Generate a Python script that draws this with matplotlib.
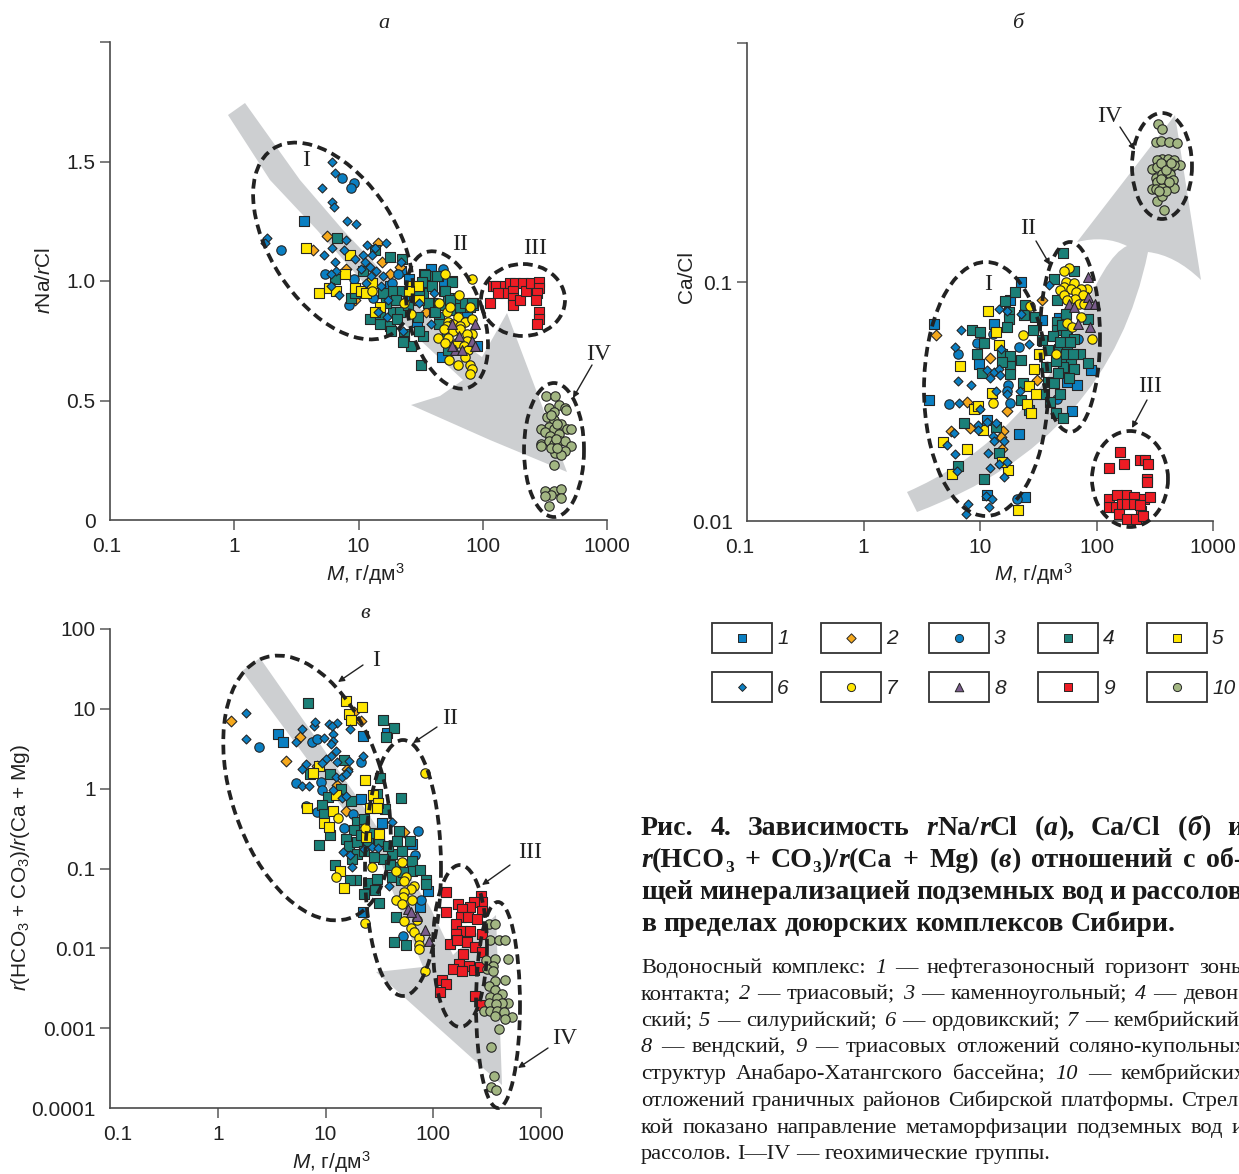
import numpy as np
import matplotlib
matplotlib.use("Agg")
import matplotlib.pyplot as plt
from matplotlib.patches import Ellipse, Polygon, Rectangle, FancyArrowPatch
from matplotlib.path import Path
from matplotlib.patches import PathPatch
from matplotlib.transforms import ScaledTranslation

W, H = 1239, 1174
plt.rcParams.update({
    "font.family": ["Liberation Sans", "DejaVu Sans"],
    "mathtext.fontset": "custom",
    "mathtext.rm": "Liberation Sans",
    "mathtext.it": "Liberation Sans:italic",
    "mathtext.default": "regular",
})

# ---------- panel a: (log10 M, rNa/rCl) ----------
a1 = [(0.56,1.25),(1.58,1.05),(1.69,1.00),(1.34,1.04),(1.41,1.01),(1.67,0.68),(1.87,0.87),(1.95,0.73),(1.47,0.83),(1.25,0.98),(1.92,0.90)]
a2 = [(0.75,1.19),(0.63,1.13),(1.16,1.16),(1.19,1.08),(0.90,1.05),(1.25,1.03),(1.54,0.87),(1.33,1.06),(0.97,0.92)]
a3 = [(0.87,1.43),(0.96,1.41),(0.94,1.39),(0.38,1.13),(0.73,1.03),(0.96,1.01),(1.12,0.93),(0.92,0.90),(1.32,1.03),(1.68,1.05),(1.39,0.92),(1.27,0.99)]
a4 = [(0.83,1.18),(1.13,1.13),(1.25,1.10),(1.35,1.09),(1.04,1.04),(0.81,1.01),(0.94,0.93),(0.97,0.95),(1.28,0.96),(1.35,0.96),(1.20,0.95),(1.09,0.84),(1.17,0.82),(1.25,0.81),(1.26,0.79),(1.17,0.86),(1.28,0.87),(1.33,0.87),(1.31,0.84),(1.37,0.78),(1.37,0.75),(1.42,0.73),(1.50,0.65),(1.49,0.79),(1.52,0.77),(1.48,0.85),(1.56,1.02),(1.53,1.03),(1.64,1.02),(1.75,1.00),(1.56,0.98),(1.69,0.96),(1.60,0.91),(1.57,0.91),(1.52,0.95),(1.45,0.94),(1.79,0.91),(1.92,0.91),(1.90,0.89),(1.65,0.85),(1.61,0.87),(1.76,0.88),(1.65,0.82),(1.71,0.78),(1.72,0.71),(1.82,0.89),(1.68,0.90),(1.72,0.93),(1.30,0.92),(1.40,0.90),(1.22,0.91),
      (1.534,1.024),(1.63,1.02),(1.51,0.995),(1.59,0.98),(1.75,0.995),(1.695,0.96),(1.49,0.95),(1.80,0.93),(1.735,0.92),(1.56,0.91),(1.615,0.87),(1.735,0.88),(1.855,0.907),(1.49,0.79),(1.357,0.744),(1.91,0.91)]
a5 = [(0.58,1.14),(0.93,1.11),(0.89,1.03),(0.68,0.95),(0.76,0.97),(0.82,0.96),(0.97,0.97),(1.02,0.96),(1.06,0.95),(1.11,0.99),(1.17,0.89),(1.13,0.87),(1.43,0.98),(1.48,0.98),(1.49,0.92),(1.41,0.96)]
a6 = [(0.79,1.50),(0.81,1.45),(0.71,1.39),(0.79,1.33),(0.80,1.31),(0.91,1.25),(0.98,1.24),(0.26,1.18),(0.25,1.16),(0.90,1.17),(0.79,1.14),(0.88,1.13),(0.72,1.11),(1.07,1.15),(1.22,1.16),(1.13,1.14),(1.04,1.11),(1.11,1.11),(0.97,1.09),(0.81,1.08),(1.05,1.08),(1.02,1.05),(1.09,1.06),(0.82,1.04),(0.78,1.03),(1.10,1.02),(1.14,1.04),(1.20,1.02),(1.06,0.99),(1.18,0.98),(0.78,0.98),(0.84,0.94),(1.24,0.92),(1.34,1.08),(1.16,0.87),(1.23,0.85),(1.49,0.91),(1.36,0.79),(1.58,0.82),(1.61,0.95)]
a7 = [(1.70,1.03),(1.91,1.01),(1.81,0.94),(1.65,0.91),(1.11,0.96),(1.42,0.86),(1.71,0.87),(1.74,0.89),(1.90,0.89),(1.80,0.85),(1.72,0.83),(1.86,0.83),(1.91,0.84),(1.76,0.82),(1.82,0.81),(1.71,0.81),(1.69,0.80),(1.76,0.79),(1.82,0.80),(1.91,0.78),(1.87,0.78),(1.64,0.76),(1.72,0.76),(1.87,0.75),(1.70,0.74),(1.79,0.74),(1.85,0.73),(1.88,0.71),(1.73,0.67),(1.86,0.68),(1.80,0.65),(1.90,0.65),(1.91,0.63),(1.90,0.61),(1.37,0.91)]
a8 = [(1.75,0.82),(1.94,0.82),(1.81,0.77),(1.91,0.75),(1.94,0.73),(1.78,0.71),(1.83,0.71),(1.75,0.73)]
a9 = [(2.06,0.91),(2.08,0.98),(2.11,0.98),(2.18,0.98),(2.18,0.95),(2.12,0.95),(2.22,0.99),(2.26,0.99),(2.24,0.96),(2.24,0.93),(2.24,0.90),(2.30,0.92),(2.32,0.99),(2.35,0.96),(2.39,0.99),(2.45,0.995),(2.45,0.97),(2.44,0.95),(2.43,0.92),(2.45,0.87),(2.45,0.84),(2.44,0.82)]
a10 = [(2.51,0.52),(2.58,0.52),(2.53,0.47),(2.61,0.48),(2.66,0.47),(2.67,0.46),(2.57,0.45),(2.52,0.43),(2.57,0.42),(2.63,0.40),(2.53,0.39),(2.57,0.38),(2.47,0.38),(2.50,0.37),(2.68,0.38),(2.71,0.38),(2.61,0.36),(2.54,0.35),(2.47,0.32),(2.53,0.33),(2.57,0.32),(2.62,0.33),(2.66,0.33),(2.71,0.31),(2.47,0.31),(2.66,0.29),(2.58,0.28),(2.63,0.27),(2.57,0.23),(2.50,0.12),(2.57,0.12),(2.63,0.13),(2.55,0.105),(2.50,0.10),(2.63,0.09),(2.53,0.06),(2.55,0.44),(2.60,0.40),(2.59,0.34),(2.55,0.30),(2.60,0.30)]

# ---------- panel b: (log10 M, log10 Ca/Cl) ----------
b1 = [(0.605,-1.174),(0.56,-1.495),(1.12,-1.174),(0.99,-1.342),(1.35,-1.00),(1.26,-1.074),(1.06,-1.576),(1.335,-1.635),(1.39,-1.90),(1.06,-1.893),(1.75,-1.42),(1.83,-1.43),(1.95,-1.37),(1.79,-1.54),(1.53,-1.16),(1.68,-1.15),(1.75,-1.22)]
b2 = [(0.625,-1.22),(1.09,-1.32),(0.89,-1.50),(1.235,-1.54),(0.75,-1.625),(0.91,-1.61),(1.20,-1.625),(1.18,-1.65),(1.19,-1.70),(1.53,-1.074),(1.49,-1.41)]
b3 = [(0.97,-1.254),(0.81,-1.30),(0.73,-1.51),(1.24,-1.43),(1.235,-1.456),(1.26,-1.506),(1.335,-1.27),(1.11,-1.216),(1.32,-1.91),(1.66,-1.488),(1.84,-1.24)]
b4 = [(1.71,-0.88),(1.81,-0.954),(1.635,-0.986),(1.30,-1.04),(1.215,-1.08),(1.39,-1.095),(1.38,-1.14),(1.25,-1.126),(1.25,-1.154),(1.235,-1.19),(0.934,-1.20),(1.0,-1.208),(1.035,-1.254),(0.97,-1.30),(1.455,-1.20),(1.47,-1.147),(1.535,-1.244),(1.19,-1.30),(1.26,-1.31),(1.35,-1.325),(1.26,-1.35),(1.19,-1.335),(1.02,-1.38),(1.26,-1.384),(1.37,-1.423),(1.35,-1.495),(1.42,-1.537),(1.55,-1.467),(1.60,-1.50),(1.69,-1.467),(1.655,-1.55),(1.71,-1.57),(1.585,-1.42),(1.635,-1.423),(0.86,-1.59),(1.135,-1.607),(1.16,-1.715),(0.81,-1.77),(1.035,-1.823),(1.66,-1.077),(1.66,-1.167),(1.735,-1.133),(1.66,-1.20),(1.735,-1.216),(1.63,-1.226),(1.81,-1.237),(1.68,-1.28),(1.75,-1.27),(1.58,-1.286),(1.86,-1.30),(1.72,-1.32),(1.78,-1.33),(1.93,-1.34),(1.715,-1.356),(1.81,-1.363),(1.57,-1.356),(1.93,-1.154),(1.70,-1.18),(1.69,-1.25),(1.77,-1.25),(1.65,-1.33),(1.74,-1.30),(1.80,-1.30),(1.67,-1.38),(1.76,-1.40)]
b5 = [(1.07,-1.123),(1.135,-1.21),(1.16,-1.265),(0.83,-1.35),(1.46,-1.363),(1.42,-1.437),(1.48,-1.47),(1.40,-1.512),(1.44,-1.55),(1.105,-1.463),(0.95,-1.53),(0.98,-1.52),(1.03,-1.62),(0.68,-1.67),(0.89,-1.70),(0.76,-1.805),(1.24,-1.785),(1.19,-1.753),(1.33,-1.953),(1.51,-1.30)]
b6 = [(0.84,-1.20),(0.785,-1.27),(0.81,-1.414),(0.92,-1.432),(0.82,-1.506),(1.16,-1.115),(1.23,-1.123),(1.355,-1.135),(1.18,-1.28),(1.42,-1.26),(1.06,-1.37),(1.12,-1.377),(1.16,-1.363),(1.09,-1.40),(1.17,-1.39),(1.135,-1.457),(1.235,-1.467),(1.34,-1.457),(0.997,-1.53),(0.98,-1.60),(1.06,-1.586),(1.135,-1.59),(0.98,-1.62),(0.78,-1.63),(0.72,-1.68),(1.11,-1.646),(1.12,-1.665),(1.21,-1.665),(1.07,-1.715),(0.785,-1.72),(1.23,-1.753),(1.16,-1.763),(1.09,-1.78),(1.21,-1.816),(0.805,-1.79),(1.055,-1.896),(1.10,-1.91),(1.08,-1.94),(0.90,-1.93),(0.88,-1.97),(1.59,-1.014)]
b7 = [(1.76,-0.94),(1.72,-0.954),(1.74,-1.0),(1.81,-1.004),(1.915,-1.03),(1.72,-1.02),(1.865,-1.03),(1.69,-1.035),(1.78,-1.03),(1.82,-1.04),(1.72,-1.056),(1.88,-1.056),(1.815,-1.07),(1.75,-1.077),(1.85,-1.09),(1.89,-1.09),(1.865,-1.147),(1.43,-1.10),(1.75,-1.17),(1.79,-1.19),(1.96,-1.24),(1.37,-1.22),(1.65,-1.30),(1.11,-1.506)]
b8 = [(1.93,-0.98),(1.76,-1.09),(1.81,-1.105),(1.93,-1.063),(1.935,-1.094),(1.985,-1.094),(1.84,-1.177),(1.94,-1.188)]
b9 = [(2.20,-1.71),(2.11,-1.78),(2.24,-1.76),(2.37,-1.744),(2.42,-1.744),(2.445,-1.76),(2.435,-1.826),(2.43,-1.837),(2.11,-1.91),(2.25,-1.893),(2.18,-1.893),(2.32,-1.90),(2.41,-1.907),(2.46,-1.90),(2.11,-1.94),(2.165,-1.941),(2.22,-1.93),(2.265,-1.93),(2.32,-1.93),(2.19,-1.97),(2.38,-1.96),(2.265,-1.99),(2.335,-1.99),(2.40,-1.98),(2.37,-1.935)]
b10 = [(2.53,-0.34),(2.565,-0.36),(2.51,-0.414),(2.55,-0.41),(2.625,-0.414),(2.69,-0.42),(2.565,-0.484),(2.61,-0.484),(2.665,-0.49),(2.52,-0.49),(2.48,-0.526),(2.52,-0.52),(2.58,-0.51),(2.63,-0.526),(2.72,-0.51),(2.665,-0.51),(2.51,-0.564),(2.565,-0.55),(2.635,-0.547),(2.52,-0.58),(2.58,-0.59),(2.66,-0.575),(2.48,-0.612),(2.51,-0.612),(2.565,-0.605),(2.665,-0.605),(2.52,-0.66),(2.565,-0.64),(2.58,-0.697),(2.55,-0.50),(2.60,-0.53),(2.55,-0.57),(2.62,-0.58),(2.60,-0.62),(2.54,-0.62),(2.64,-0.50)]

# ---------- panel v: (log10 M, log10 ratio) ----------
c1 = [(0.56,0.686),(0.607,0.582),(1.35,0.66),(1.57,0.695),(1.33,-0.128),(1.52,-0.429),(1.805,-0.69),(1.95,-1.277),(1.88,-1.486),(1.347,-1.55)]
c2 = [(0.127,0.845),(0.63,0.344),(0.76,0.645),(1.33,0.853),(1.26,0.958),(1.19,-0.283),(1.11,0.052),(1.73,-0.546),(0.92,0.29),(1.195,0.248)]
c3 = [(0.38,0.52),(0.876,0.59),(0.92,0.62),(0.73,0.068),(0.96,0.08),(0.97,-0.011),(1.325,0.331),(0.82,-0.22),(0.917,-0.295),(1.257,-0.316),(1.17,-0.496),(1.86,-0.533),(1.83,-0.826),(1.72,-1.84),(1.89,-1.394)]
c4 = [(0.84,1.07),(1.53,0.862),(1.64,0.762),(1.564,0.653),(1.17,0.365),(1.505,0.135),(0.86,0.183),(1.04,0.185),(1.14,-0.003),(1.48,-0.065),(1.70,-0.12),(1.02,-0.107),(0.97,-0.21),(0.99,-0.316),(1.24,-0.157),(1.55,-0.253),(1.04,-0.575),(0.94,-0.705),(1.295,-0.42),(1.36,-0.38),(1.26,-0.517),(1.19,-0.63),(1.217,-0.713),(1.295,-0.67),(1.39,-0.65),(1.495,-0.65),(1.295,-0.817),(1.25,-0.88),(1.68,-0.525),(1.78,-0.65),(1.71,-0.775),(1.62,-0.817),(1.53,-0.88),(1.805,-0.90),(1.65,-0.985),(1.805,-1.026),(1.875,-1.018),(1.93,-1.143),(1.93,-1.193),(1.087,-0.95),(1.28,-1.15),(1.23,-1.143),(1.39,-1.18),(1.48,-1.135),(1.455,-1.27),(1.36,-1.32),(1.50,-1.43),(1.65,-1.61),(1.64,-1.916),(1.75,-1.953),(1.62,-1.11),(1.70,-1.15),(1.356,-0.775),(1.45,-0.86),(1.33,-0.58),(1.42,-0.56),(1.58,-0.72),(1.66,-0.66),(1.60,-0.95),(1.72,-1.05)]
c5 = [(1.19,1.104),(1.335,1.02),(1.22,0.937),(1.24,0.862),(0.94,0.29),(0.885,0.194),(1.365,0.114),(1.44,-0.078),(1.10,-0.078),(1.49,-0.178),(1.41,-0.245),(1.475,-0.245),(0.83,-0.241),(1.07,-0.274),(0.985,-0.429),(1.03,-0.475),(1.50,-0.567),(1.38,-0.609),(1.133,-1.026),(1.17,-1.245)]
c6 = [(0.263,0.945),(0.263,0.628),(0.73,0.59),(0.783,0.75),(0.89,0.79),(0.907,0.833),(0.985,0.632),(1.03,0.812),(1.11,0.824),(1.06,0.79),(1.065,0.686),(1.07,0.603),(1.05,0.561),(1.23,0.749),(1.35,0.407),(1.096,0.469),(1.047,0.415),(1.0,0.373),(0.97,0.323),(1.11,0.331),(1.217,0.344),(0.815,0.31),(0.783,0.248),(1.21,0.219),(1.093,0.152),(1.155,0.152),(1.186,0.185),(0.783,0.03),(0.85,0.03),(1.07,-0.011),(1.155,-0.116),(1.186,-0.086),(1.613,-0.412),(1.16,-0.788),(1.232,-0.83),(1.356,-0.755),(1.433,-0.725),(1.49,-0.742),(1.242,-0.984),(1.59,-1.214)]
c7 = [(1.92,0.198),(1.115,-0.366),(1.365,-0.496),(1.706,-0.913),(1.43,-0.976),(1.65,-1.026),(1.10,-1.11),(1.75,-1.11),(1.73,-1.16),(1.82,-1.214),(1.79,-1.256),(1.73,-1.30),(1.72,-1.36),(1.65,-1.40),(1.805,-1.40),(1.71,-1.444),(1.73,-1.66),(1.845,-1.644),(1.79,-1.745),(1.82,-1.80),(1.87,-1.87),(1.87,-1.953),(1.87,-2.008),(1.365,-1.686),(1.92,-2.288)]
c8 = [(1.765,-1.507),(1.85,-1.59),(1.92,-1.77),(1.96,-1.905),(1.79,-1.55)]
c9 = [(2.115,-1.30),(2.115,-1.55),(2.44,-1.34),(2.455,-1.42),(2.38,-1.42),(2.23,-1.44),(2.34,-1.485),(2.27,-1.506),(2.45,-1.527),(2.254,-1.61),(2.32,-1.61),(2.41,-1.63),(2.21,-1.695),(2.27,-1.78),(2.34,-1.78),(2.455,-1.82),(2.21,-1.82),(2.16,-1.945),(2.22,-1.90),(2.31,-1.925),(2.385,-1.987),(2.45,-2.05),(2.276,-2.07),(2.24,-2.19),(2.33,-2.225),(2.18,-2.26),(2.265,-2.28),(2.378,-2.27),(2.43,-2.24),(2.08,-2.396),(2.115,-2.447),(2.06,-2.55),(2.384,-2.60),(2.45,-2.71)]
c10 = [(2.517,-1.695),(2.57,-1.695),(2.53,-1.89),(2.61,-1.895),(2.665,-1.89),(2.695,-2.13),(2.486,-2.14),(2.57,-2.13),(2.557,-2.216),(2.50,-2.26),(2.55,-2.28),(2.665,-2.396),(2.573,-2.41),(2.517,-2.467),(2.57,-2.52),(2.635,-2.57),(2.53,-2.605),(2.595,-2.62),(2.697,-2.69),(2.64,-2.69),(2.517,-2.69),(2.58,-2.70),(2.47,-2.78),(2.53,-2.78),(2.59,-2.78),(2.657,-2.80),(2.73,-2.864),(2.665,-2.885),(2.573,-2.845),(2.61,-3.01),(2.54,-3.24),(2.564,-3.595),(2.54,-3.74),(2.58,-3.78)]

legend_labels = ["1", "2", "3", "4", "5", "6", "7", "8", "9", "10"]
x_ticks = [0.1, 1, 10, 100, 1000]
x_tick_labels = ["0.1", "1", "10", "100", "1000"]

styles = {
    1: dict(marker="s", c="#0a7fc2", s=50),
    2: dict(marker="D", c="#f5a81c", s=30),
    3: dict(marker="o", c="#0a7fc2", s=46),
    4: dict(marker="s", c="#1b8078", s=54),
    5: dict(marker="s", c="#ffe600", s=50),
    6: dict(marker="D", c="#0a7fc2", s=21),
    7: dict(marker="o", c="#ffe600", s=46),
    8: dict(marker="^", c="#7a5c8c", s=50),
    9: dict(marker="s", c="#ed1c24", s=44),
    10: dict(marker="o", c="#a2b682", s=46),
}
legend_scale = 0.75
EDGE = "#262626"
GRAY = "#cdcfd1"
AX = "#4a4a4a"

fig = plt.figure(figsize=(W / 100, H / 100), dpi=100, facecolor="white")


def pixel_axes(z):
    o = fig.add_axes([0, 0, 1, 1], zorder=z)
    o.set_xlim(0, W)
    o.set_ylim(H, 0)
    o.axis("off")
    o.patch.set_alpha(0)
    return o


under = pixel_axes(0)
over = pixel_axes(5)


def data_axes(l, r, t, b):
    ax = fig.add_axes([l / W, 1 - b / H, (r - l) / W, (b - t) / H], zorder=2)
    ax.patch.set_alpha(0)
    for s in ("top", "right"):
        ax.spines[s].set_visible(False)
    for s in ("left", "bottom"):
        ax.spines[s].set_color(AX)
        ax.spines[s].set_linewidth(1.2)
    ax.tick_params(which="major", length=7.4, width=1.2, color="#666666", labelsize=15,
                   labelcolor="#222222", pad=3)
    ax.tick_params(axis="x", which="major", pad=5)
    ax.tick_params(which="minor", length=0)
    ax.set_xscale("log")
    ax.set_xlim(0.1, 1000)
    ax.set_xticks(x_ticks)
    ax.set_xticklabels(x_tick_labels)
    return ax


def draw(ax, series, logy):
    for i, pts in enumerate(series, start=1):
        arr = np.array(pts)
        xs = 10 ** arr[:, 0]
        ys = 10 ** arr[:, 1] if logy else arr[:, 1]
        st = styles[i]
        ax.scatter(xs, ys, marker=st["marker"], c=st["c"], s=st["s"], edgecolors=EDGE,
                   linewidths=0.8, clip_on=False, zorder=3 + i * 0.1)


def finish_corner(ax, dx_px):
    # the axes corner carries labels but no tick marks
    ax.xaxis.get_major_ticks()[0].tick1line.set_visible(False)
    ax.yaxis.get_major_ticks()[0].tick1line.set_visible(False)
    lab = ax.get_xticklabels()[0]
    lab.set_transform(lab.get_transform() + ScaledTranslation(dx_px / 100, 0, fig.dpi_scale_trans))


# panel a
axa = data_axes(110, 607, 42, 520)
axa.set_ylim(0, 2)
axa.set_yticks([0, 0.5, 1.0, 1.5, 2.0])
axa.set_yticklabels(["0", "0.5", "1.0", "1.5", ""])
draw(axa, [a1, a2, a3, a4, a5, a6, a7, a8, a9, a10], False)
finish_corner(axa, -3)
axa.set_xlabel(r"$\mathit{M}$, г/дм$^3$", fontsize=15, color="#222222")
axa.xaxis.set_label_coords(365, 561, transform=over.transData)
axa.set_ylabel(r"$\mathit{r}$Na/$\mathit{r}$Cl", fontsize=15, color="#222222")
axa.yaxis.set_label_coords(54, 281, transform=over.transData)

# panel b
axb = data_axes(747, 1213, 43, 521)
axb.set_yscale("log")
axb.set_ylim(0.01, 1)
axb.set_yticks([0.01, 0.1, 1])
axb.set_yticklabels(["0.01", "0.1", ""])
axb.tick_params(axis="y", which="minor", length=0)
draw(axb, [b1, b2, b3, b4, b5, b6, b7, b8, b9, b10], True)
finish_corner(axb, -7)
axb.set_xlabel(r"$\mathit{M}$, г/дм$^3$", fontsize=15, color="#222222")
axb.xaxis.set_label_coords(1033, 561, transform=over.transData)
axb.set_ylabel("Ca/Cl", fontsize=15, color="#222222")
axb.yaxis.set_label_coords(696, 277, transform=over.transData)

# panel v
axc = data_axes(110, 541, 629, 1108)
axc.set_yscale("log")
axc.set_ylim(0.0001, 100)
axc.set_yticks([0.0001, 0.001, 0.01, 0.1, 1, 10, 100])
axc.set_yticklabels(["0.0001", "0.001", "0.01", "0.1", "1", "10", "100"])
axc.tick_params(axis="y", which="minor", length=0)
draw(axc, [c1, c2, c3, c4, c5, c6, c7, c8, c9, c10], True)
finish_corner(axc, 8)
axc.set_xlabel(r"$\mathit{M}$, г/дм$^3$", fontsize=15, color="#222222")
axc.xaxis.set_label_coords(331, 1149, transform=over.transData)
axc.set_ylabel(r"$\mathit{r}$(HCO$_3$ + CO$_3$)/$\mathit{r}$(Ca + Mg)", fontsize=15, color="#222222")
axc.yaxis.set_label_coords(32, 868, transform=over.transData)

# grey metamorphism arrows
arrow_a = [(228,115),(245,103),(300,180),(343,230),(395,285),(440,327),(482,357),(507,313),(567,472),(490,440),(411,405),(440,396),(463,380),(420,340),(370,290),(317,230),(270,180)]
under.add_patch(Polygon(arrow_a, closed=True, fc=GRAY, ec="none"))

M, L, C, Z = Path.MOVETO, Path.LINETO, Path.CURVE3, Path.CLOSEPOLY
arrow_b_v = [(907,492),(1015,445),(1075,333),(1105,255),(1127,246),(1105,235),(1077,242),(1175,115),(1201,280),(1175,255),(1148,252),(1110,440),(917,512),(907,492)]
arrow_b_c = [M, C, C, C, C, C, C, L, L, C, C, C, C, Z]
under.add_patch(PathPatch(Path(arrow_b_v, arrow_b_c), fc=GRAY, ec="none"))

arrow_c = [(242,671),(260,658),(357,797),(430,907),(453,955),(496,915),(502,1085),(376,972),(423,967),(380,860),(310,763)]
under.add_patch(Polygon(arrow_c, closed=True, fc=GRAY, ec="none"))

# dashed group outlines
ellipses = [
    (333,241,110,63,57),(447,320,71,37,73),(523,300,42,36,0),(554,450,67,30,90),
    (986,389,127,62,90),(1070,337,95,30,90),(1130,479,48,38,90),(1162,166,53,30,90),
    (307,788,137,76,72),(403,868,128,38,90),(460,946,81,27,90),(498,1005,103,22,90),
]
for cx, cy, a_, b_, ang in ellipses:
    over.add_patch(Ellipse((cx, cy), 2 * a_, 2 * b_, angle=ang, fc="none", ec="#222222",
                           lw=2.7, ls=(0, (2.6, 1.5))))

# roman labels and pointers
romans = [("I",306,161),("II",460,244),("III",535,249),("IV",599,355),
          ("I",988,284),("II",1028,229),("III",1150,387),("IV",1110,116),
          ("I",376,661),("II",450,718),("III",530,852),("IV",565,1039)]
for s, x, y in romans:
    over.text(x, y, s, family="Liberation Serif", fontsize=17, ha="center", va="center", color="#222222")
pointers = [((592,365),(573,398)),((1036,241),(1050,265)),((1147,400),(1132,428)),((1120,127),(1135,150)),
            ((363,665),(338,682)),((437,727),(413,743)),((510,865),(482,885)),((548,1048),(518,1068))]
for p, q in pointers:
    over.add_patch(FancyArrowPatch(p, q, arrowstyle="-|>", mutation_scale=9, lw=1.0, color="#222222", shrinkA=0, shrinkB=0))
for s, x, y in [("а",384,24),("б",1018,24),("в",365,614)]:
    over.text(x, y, s, family="Liberation Serif", style="italic", fontsize=16, ha="center", va="center", color="#222222")

# legend
cols = [712, 821, 929, 1038, 1147]
rows = [623, 672]
for i, lab in enumerate(legend_labels):
    x0 = cols[i % 5]
    y0 = rows[i // 5]
    over.add_patch(Rectangle((x0, y0), 60, 30, fc="white", ec="#333333", lw=1.3))
    st = styles[i + 1]
    over.scatter([x0 + 30], [y0 + 15], marker=st["marker"], c=st["c"], s=st["s"] * legend_scale, edgecolors=EDGE, linewidths=0.7, zorder=6)
    over.text(x0 + 65, y0 + 16, lab, style="italic", fontsize=15, ha="left", va="center", color="#222222")

# caption text, word by word so that lines are justified
renderer = fig.canvas.get_renderer()


def props(style, base):
    d = dict(family="Liberation Serif", fontsize=base, color="#1a1a1a")
    if "b" in style:
        d["weight"] = "bold"
    if "i" in style:
        d["style"] = "italic"
    if "s" in style:
        d["fontsize"] = base * 0.62
    return d


def run_width(text, style, base):
    t = over.text(0, 0, text, **props(style, base))
    w = renderer.get_text_width_height_descent(text, t.get_fontproperties(), False)[0]
    t.remove()
    return w


def put_line(words, x0, x1, y, base):
    widths = [sum(run_width(r[0], r[1], base) for r in w) for w in words]
    if x1 is None:
        gap = base * 0.36
    else:
        gap = (x1 - x0 - sum(widths)) / max(1, len(words) - 1)
    x = x0
    for w, width in zip(words, widths):
        cx = x
        for text, style in w:
            dy = 5 if "s" in style else 0
            over.text(cx, y + dy, text, va="baseline", ha="left", clip_on=False, **props(style, base))
            cx += run_width(text, style, base)
        x += width + gap


def W_(s, st=""):
    return [[(p, st)] for p in s.split()]


B = "b"
BI = "bi"
title_lines = [
    (W_("Рис. 4. Зависимость", B) + [[("r", BI), ("Na/", B), ("r", BI), ("Cl", B)]] + [[("(", B), ("а", BI), ("),", B)]]
     + W_("Ca/Cl", B) + [[("(", B), ("б", BI), (")", B)]] + W_("и", B), 1243, 835),
    ([[("r", BI), ("(HCO", B), ("3", "bs")]] + W_("+", B) + [[("CO", B), ("3", "bs"), (")/", B), ("r", BI), ("(Ca", B)]] + W_("+", B)
     + W_("Mg)", B) + [[("(", B), ("в", BI), (")", B)]] + W_("отношений с об-", B), 1243, 867),
    (W_("щей минерализацией подземных вод и рассолов", B), 1243, 899),
    (W_("в пределах доюрских комплексов Сибири.", B), None, 931),
]
for words, x1, y in title_lines:
    put_line(words, 641, x1, y, 20.1)

body_lines = [
    (W_("Водоносный комплекс:") + W_("1", "i") + W_("— нефтегазоносный горизонт зоны"), 1246, 973),
    (W_("контакта;") + W_("2", "i") + W_("— триасовый;") + W_("3", "i") + W_("— каменноугольный;") + W_("4", "i") + W_("— девон-"), 1246, 999),
    (W_("ский;") + W_("5", "i") + W_("— силурийский;") + W_("6", "i") + W_("— ордовикский;") + W_("7", "i") + W_("— кембрийский;"), 1246, 1026),
    (W_("8", "i") + W_("— вендский,") + W_("9", "i") + W_("— триасовых отложений соляно-купольных"), 1246, 1052),
    (W_("структур Анабаро-Хатангского бассейна;") + W_("10", "i") + W_("— кембрийских"), 1246, 1079),
    (W_("отложений граничных районов Сибирской платформы. Стрел-"), 1246, 1106),
    (W_("кой показано направление метаморфизации подземных вод и"), 1244, 1133),
    (W_("рассолов. I—IV — геохимические группы."), None, 1159),
]
for words, x1, y in body_lines:
    put_line(words, 641, x1, y, 16.1)

fig.savefig("out.png", dpi=100)
